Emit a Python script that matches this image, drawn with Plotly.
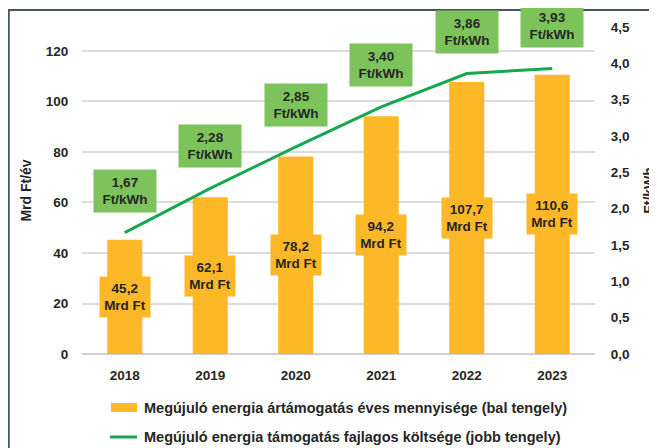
import plotly.graph_objs as go

# Adatok
years = ['2018', '2019', '2020', '2021', '2022', '2023']
support_mrd_ft = [45.2, 62.1, 78.2, 94.2, 107.7, 110.6]
unit_cost_ft_kwh = [1.67, 2.28, 2.85, 3.40, 3.86, 3.93]

legend_labels = [
    'Megújuló energia ártámogatás éves mennyisége (bal tengely)',
    'Megújuló energia támogatás fajlagos költsége (jobb tengely)',
]
left_title = 'Mrd Ft/év'
right_title = 'Ft/kWh'

BAR_COLOR = '#FDB827'
LINE_COLOR = '#17A84D'
BOX_GREEN = '#7DC35B'
TEXT = '#262626'
FONT = 'Liberation Sans'


def hu(v, d):
    return f'{v:.{d}f}'.replace('.', ',')


fig = go.Figure()

# Ártámogatás (oszlopok, bal tengely)
fig.add_trace(
    go.Bar(
        x=years,
        y=support_mrd_ft,
        name=legend_labels[0],
        marker=dict(color=BAR_COLOR, line=dict(width=0)),
        width=0.41,
        showlegend=False,
    )
)

# Fajlagos költség (vonal, jobb tengely)
fig.add_trace(
    go.Scatter(
        x=years,
        y=unit_cost_ft_kwh,
        mode='lines',
        name=legend_labels[1],
        line=dict(color=LINE_COLOR, width=3),
        yaxis='y2',
        showlegend=False,
    )
)

label_font = dict(family=FONT, size=13.5, color=TEXT, weight='bold')

# Oszlopcímkék (kategóriaindex szerint)
for i, v in enumerate(support_mrd_ft):
    fig.add_annotation(
        x=i, y=v / 2, xref='x', yref='y',
        text=f'{hu(v, 1)}<br>Mrd Ft',
        showarrow=False,
        bgcolor=BAR_COLOR,
        width=44, height=34, borderpad=3,
        font=label_font,
    )

# Vonalcímkék (zöld dobozok)
for i, v in enumerate(unit_cost_ft_kwh):
    fig.add_annotation(
        x=i, y=v, xref='x', yref='y2',
        text=f'{hu(v, 2)}<br>Ft/kWh',
        showarrow=False,
        yshift=42,
        bgcolor=BOX_GREEN,
        width=54, height=34, borderpad=4,
        font=label_font,
    )

# Jelmagyarázat (kézzel)
fig.add_shape(type='rect', xref='paper', yref='paper',
              x0=0.0565, x1=0.1072, y0=-0.1774, y1=-0.1498,
              fillcolor=BAR_COLOR, line=dict(width=0))
fig.add_shape(type='line', xref='paper', yref='paper',
              x0=0.0545, x1=0.1072, y0=-0.2538, y1=-0.2538,
              line=dict(color=LINE_COLOR, width=3))
for lbl, ly in zip(legend_labels, [-0.165, -0.2538]):
    fig.add_annotation(
        x=0.117, y=ly, xref='paper', yref='paper',
        text=lbl, showarrow=False, xanchor='left', yanchor='middle',
        font=dict(family=FONT, size=14.5, color=TEXT, weight='bold'),
    )

# Keret (a bal és felső él látszik)
fig.add_shape(type='rect', xref='paper', yref='paper',
              x0=-0.1428, x1=1.3, y0=-0.5, y1=1.052,
              line=dict(color='#44525C', width=2), layer='below')

tick_font = dict(family=FONT, size=13.5, color=TEXT, weight='bold')
title_font = dict(family=FONT, size=14, color=TEXT, weight='bold')

fig.update_layout(
    width=649,
    height=440,
    margin=dict(l=74, r=62, t=19, b=94),
    paper_bgcolor='white',
    plot_bgcolor='white',
    separators=', ',
    showlegend=False,
    xaxis=dict(
        type='category',
        range=[-0.5, len(years) - 0.5],
        showgrid=False,
        showline=False,
        tickfont=tick_font,
        ticks='outside', ticklen=9, tickcolor='rgba(0,0,0,0)',
    ),
    yaxis=dict(
        range=[0, 129.5],
        dtick=20,
        tickformat='d',
        showgrid=True,
        gridcolor='#DCDCDC',
        gridwidth=1.5,
        zeroline=True,
        zerolinecolor='#D0D0D0',
        zerolinewidth=1.5,
        tickfont=tick_font,
        ticks='outside', ticklen=10, tickcolor='rgba(0,0,0,0)',
        title=dict(text=left_title, font=title_font, standoff=10),
        automargin=False,
    ),
    yaxis2=dict(
        range=[0, 4.5],
        dtick=0.5,
        tickformat='.1f',
        overlaying='y',
        side='right',
        showgrid=False,
        zeroline=False,
        tickfont=tick_font,
        ticks='outside', ticklen=12, tickcolor='rgba(0,0,0,0)',
        title=dict(text=right_title, font=title_font, standoff=22),
        automargin=False,
    ),
)

fig.write_html('out.html')
